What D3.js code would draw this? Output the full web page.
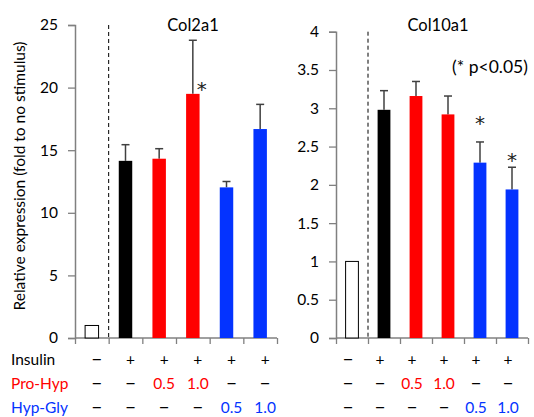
<!DOCTYPE html>
<html>
<head>
<meta charset="utf-8">
<script src="https://cdn.jsdelivr.net/npm/d3@7"></script>
<style>
  body { margin: 0; background: #fff; }
  text { font-family: Lato, "Open Sans", sans-serif; }
</style>
</head>
<body>
<div id="wrapper"></div>
<script>
// data
const groups = ['none', 'ins', 'ph05', 'ph10', 'hg05', 'hg10']
const col2a1 = [1.0, 14.15, 14.32, 19.5, 12.03, 16.69]
const col2a1Err = [0, 1.29, 0.8, 4.28, 0.47, 1.97]
// value level where the significance star sits (null = none)
const col2a1Star = [null, null, null, 20.3, null, null]
const col10a1 = [1.0, 2.98, 3.16, 2.92, 2.29, 1.94]
const col10a1Err = [0, 0.25, 0.19, 0.24, 0.27, 0.29]
const col10a1Star = [null, null, null, null, 2.87, 2.39]
const col2a1Ticks = [0, 5, 10, 15, 20, 25]
const col10a1Ticks = [0, 0.5, 1, 1.5, 2, 2.5, 3, 3.5, 4]
const insulinRow = ['–', '+', '+', '+', '+', '+']
const proHypRow = ['–', '–', '0.5', '1.0', '–', '–']
const hypGlyRow = ['–', '–', '–', '–', '0.5', '1.0']
const barColors = ['#fff', '#000', '#ff0000', '#ff0000', '#0433ff', '#0433ff']

const width = 534
const height = 417

const svg = d3.select('#wrapper').append('svg')
  .attr('width', width)
  .attr('height', height)

function drawPanel(opts) {
  const x = d3.scaleBand()
    .domain(groups)
    .range([opts.left, opts.right])
    .paddingInner(0.6)
    .paddingOuter(0.3)
  const y = d3.scaleLinear()
    .domain([0, opts.max])
    .range([338, opts.top])

  const g = svg.append('g')

  // y axis
  const yAxis = g.append('g')
    .attr('transform', `translate(${opts.left},0)`)
    .call(d3.axisLeft(y).tickValues(opts.ticks).tickSize(7).tickPadding(10)
      .tickFormat(d3.format('')))
  yAxis.select('.domain').attr('stroke', '#808080').attr('stroke-width', 1.5)
  yAxis.selectAll('.tick line').attr('stroke', '#808080').attr('stroke-width', 1.3)
  yAxis.selectAll('.tick text').attr('fill', '#000').style('font-size', '15.5px')
    .style('font-family', 'Lato, sans-serif')

  // x axis with boundary ticks
  const xb = d3.scaleLinear().domain([0, groups.length]).range([opts.left, opts.right])
  const xAxis = g.append('g')
    .attr('transform', 'translate(0,338)')
    .call(d3.axisBottom(xb).ticks(groups.length).tickSize(6).tickFormat(''))
  xAxis.select('.domain').attr('stroke', '#808080').attr('stroke-width', 1.5)
    .attr('d', `M${opts.left},0H${opts.right}`)
  xAxis.selectAll('.tick line').attr('stroke', '#808080').attr('stroke-width', 1.3)

  // dashed separator
  g.append('line')
    .attr('x1', xb(1)).attr('x2', xb(1))
    .attr('y1', opts.top).attr('y2', 338)
    .attr('stroke', '#000').attr('stroke-width', 1)
    .attr('stroke-dasharray', '4,3')

  // error bars
  groups.forEach((k, i) => {
    if (opts.err[i] <= 0) return
    const cx = x(k) + x.bandwidth() / 2
    g.append('line')
      .attr('x1', cx).attr('x2', cx)
      .attr('y1', y(opts.values[i])).attr('y2', y(opts.values[i] + opts.err[i]))
      .attr('stroke', '#404040').attr('stroke-width', 1.5)
    g.append('line')
      .attr('x1', cx - 4).attr('x2', cx + 4)
      .attr('y1', y(opts.values[i] + opts.err[i])).attr('y2', y(opts.values[i] + opts.err[i]))
      .attr('stroke', '#404040').attr('stroke-width', 1.5)
  })

  // bars
  g.selectAll('rect.bar')
    .data(groups)
    .enter().append('rect')
    .attr('x', d => x(d))
    .attr('width', x.bandwidth())
    .attr('y', (d, i) => y(opts.values[i]))
    .attr('height', (d, i) => 338 - y(opts.values[i]))
    .attr('fill', (d, i) => barColors[i])
    .attr('stroke', (d, i) => i === 0 ? '#000' : 'none')
    .attr('stroke-width', 1)

  // stars
  groups.forEach((k, i) => {
    if (opts.stars[i] == null) return
    g.append('text')
      .attr('x', x(k) + x.bandwidth() / 2 + opts.starDx)
      .attr('y', y(opts.stars[i]) + 12)
      .attr('text-anchor', 'middle')
      .attr('fill', '#222')
      .style('font-family', '"DejaVu Sans", sans-serif')
      .style('font-size', '20px')
      .text('*')
  })

  // title
  g.append('text')
    .attr('x', opts.titleX).attr('y', 31)
    .attr('text-anchor', 'middle')
    .style('font-size', '16.5px')
    .text(opts.title)

  // condition rows
  const rows = [[insulinRow, '#000', 365], [proHypRow, '#ff0000', 389], [hypGlyRow, '#0433ff', 413]]
  rows.forEach(([row, color, yy]) => {
    g.selectAll(null)
      .data(row)
      .enter().append('text')
      .attr('x', (d, i) => x(groups[i]) + x.bandwidth() / 2 + opts.labelDx)
      .attr('y', yy)
      .attr('text-anchor', 'middle')
      .attr('fill', d => (d === '–' || d === '+') ? '#000' : color)
      .style('font-size', d => d === '–' ? '20px' : '15.5px')
      .text(d => d)
  })
}

drawPanel({
  left: 75, right: 277, top: 25, max: 25,
  values: col2a1, err: col2a1Err, stars: col2a1Star, ticks: col2a1Ticks,
  title: 'Col2a1', titleX: 193, starDx: 9, labelDx: 5
})

drawPanel({
  left: 336, right: 528, top: 31.7, max: 4,
  values: col10a1, err: col10a1Err, stars: col10a1Star, ticks: col10a1Ticks,
  title: 'Col10a1', titleX: 438, starDx: 0, labelDx: -4
})

svg.append('text')
  .attr('x', 490).attr('y', 73)
  .attr('text-anchor', 'middle')
  .style('font-size', '17.5px')
  .text('(* p<0.05)')

// row labels
const rowLabels = [['Insulin', '#000', 365], ['Pro-Hyp', '#ff0000', 389], ['Hyp-Gly', '#0433ff', 413]]
rowLabels.forEach(([t, c, yy]) => {
  svg.append('text')
    .attr('x', 11).attr('y', yy)
    .attr('fill', c)
    .style('font-size', '15.5px')
    .text(t)
})

// y axis label
svg.append('text')
  .attr('transform', 'translate(25,176) rotate(-90)')
  .attr('text-anchor', 'middle')
  .style('font-size', '15.5px')
  .text('Relative expression (fold to no stimulus)')
</script>
</body>
</html>
